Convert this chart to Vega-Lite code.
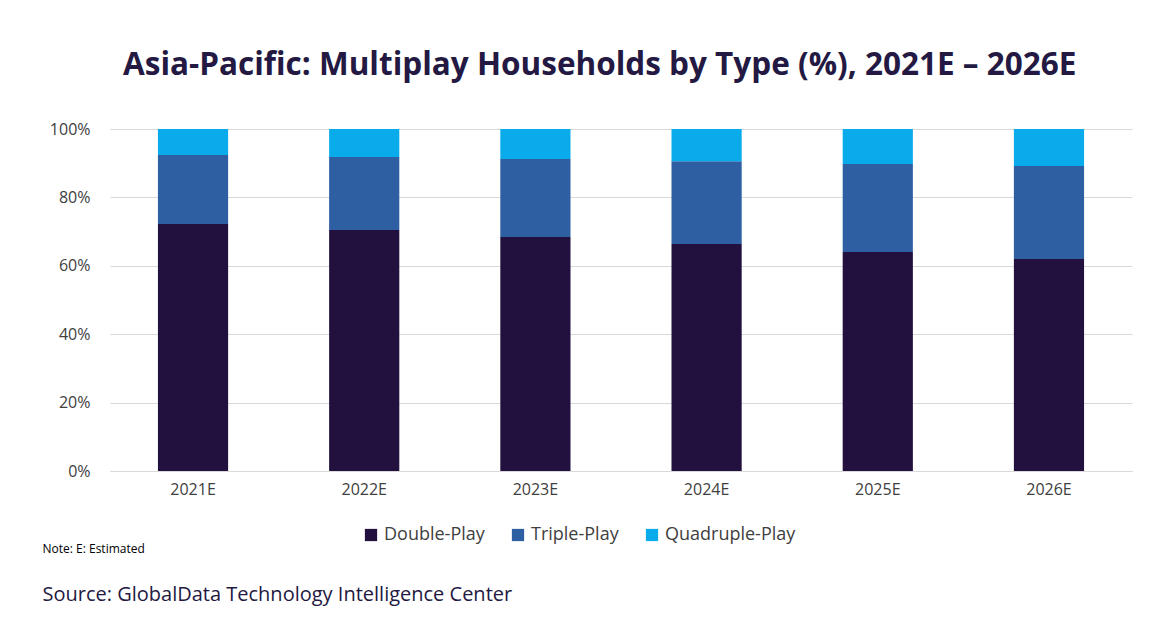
{
  "$schema": "https://vega.github.io/schema/vega-lite/v6.json",
  "autosize": "none",
  "width": 1022,
  "height": 342,
  "padding": {"left": 110, "top": 129, "right": 40, "bottom": 157},
  "background": "white",
  "title": {
    "text": "Asia-Pacific:  Multiplay Households by Type (%), 2021E – 2026E",
    "anchor": "start",
    "frame": "group",
    "dx": 13,
    "offset": 40,
    "fontSize": 31.5,
    "font": "Open Sans",
    "fontWeight": "bold",
    "color": "#231942"
  },
  "data": {
    "values": [
      {"year": "2021E", "type": "Double-Play", "k": 1, "v": 72.2},
      {"year": "2021E", "type": "Triple-Play", "k": 2, "v": 20.2},
      {"year": "2021E", "type": "Quadruple-Play", "k": 3, "v": 7.6},
      {"year": "2022E", "type": "Double-Play", "k": 1, "v": 70.5},
      {"year": "2022E", "type": "Triple-Play", "k": 2, "v": 21.3},
      {"year": "2022E", "type": "Quadruple-Play", "k": 3, "v": 8.2},
      {"year": "2023E", "type": "Double-Play", "k": 1, "v": 68.4},
      {"year": "2023E", "type": "Triple-Play", "k": 2, "v": 22.8},
      {"year": "2023E", "type": "Quadruple-Play", "k": 3, "v": 8.8},
      {"year": "2024E", "type": "Double-Play", "k": 1, "v": 66.4},
      {"year": "2024E", "type": "Triple-Play", "k": 2, "v": 24.2},
      {"year": "2024E", "type": "Quadruple-Play", "k": 3, "v": 9.4},
      {"year": "2025E", "type": "Double-Play", "k": 1, "v": 64.0},
      {"year": "2025E", "type": "Triple-Play", "k": 2, "v": 25.8},
      {"year": "2025E", "type": "Quadruple-Play", "k": 3, "v": 10.2},
      {"year": "2026E", "type": "Double-Play", "k": 1, "v": 62.0},
      {"year": "2026E", "type": "Triple-Play", "k": 2, "v": 27.2},
      {"year": "2026E", "type": "Quadruple-Play", "k": 3, "v": 10.8}
    ]
  },
  "mark": {"type": "bar"},
  "encoding": {
    "x": {
      "field": "year",
      "type": "nominal",
      "scale": {"paddingInner": 0.59, "paddingOuter": 0.28},
      "axis": {
        "title": "Source: GlobalData Technology Intelligence Center",
        "titleX": -68, "titleY": 129, "titleAlign": "left", "titleBaseline": "alphabetic",
        "titleFontSize": 20, "titleFontWeight": "normal", "titleColor": "#231942", "titleFont": "Open Sans",
        "labelAngle": 0, "labelFontSize": 16, "labelColor": "#404040", "labelFont": "Open Sans",
        "labelPadding": 10, "ticks": false, "domainColor": "#d9d9d9"
      }
    },
    "y": {
      "field": "v",
      "type": "quantitative",
      "stack": "zero",
      "scale": {"domain": [0, 100]},
      "axis": {
        "title": "Note: E: Estimated",
        "titleX": -68, "titleY": 423, "titleAngle": 0, "titleAlign": "left", "titleBaseline": "alphabetic",
        "titleFontSize": 12, "titleFontWeight": "normal", "titleColor": "#000000", "titleFont": "Open Sans",
        "values": [0, 20, 40, 60, 80, 100],
        "labelExpr": "datum.value + '%'",
        "labelFontSize": 16, "labelColor": "#404040", "labelFont": "Open Sans", "labelPadding": 20,
        "ticks": false, "domain": false, "gridColor": "#d9d9d9"
      }
    },
    "color": {
      "field": "type",
      "type": "nominal",
      "sort": ["Double-Play", "Triple-Play", "Quadruple-Play"],
      "scale": {"range": ["#22103f", "#2e5fa3", "#0aabeb"]},
      "legend": {
        "title": null,
        "orient": "none",
        "legendX": 252,
        "legendY": 397,
        "direction": "horizontal",
        "symbolType": "square",
        "symbolSize": 150,
        "labelFontSize": 18,
        "labelFont": "Open Sans",
        "labelColor": "#404040",
        "columnPadding": 24
      }
    },
    "order": {"field": "k", "type": "quantitative"}
  },
  "config": {"view": {"stroke": null}}
}
